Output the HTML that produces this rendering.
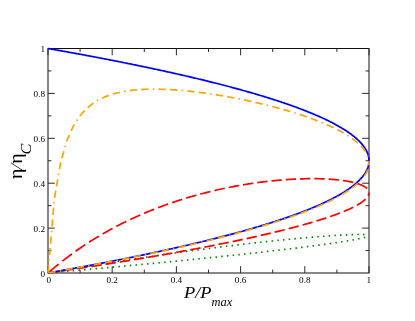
<!DOCTYPE html>
<html><head><meta charset="utf-8"><title>eta vs P</title>
<style>
html,body{margin:0;padding:0;background:#fff;}
body{width:415px;height:321px;overflow:hidden;font-family:"Liberation Serif",serif;}
svg{display:block;}
text{font-family:"Liberation Serif",serif;fill:#000;}
.g{filter:grayscale(1);}
</style></head><body>
<svg width="415" height="321" viewBox="0 0 415 321">
<rect width="415" height="321" fill="#fff"/>
<g stroke="#101010" stroke-width="1.0" fill="none">
<rect x="48.0" y="48.5" width="321.00" height="224.50"/>
</g>
<g stroke="#2a2a2a" stroke-width="1.0" fill="none">
<line x1="48.00" y1="273.0" x2="48.00" y2="266.2"/>
<line x1="48.00" y1="48.5" x2="48.00" y2="55.3"/>
<line x1="80.10" y1="273.0" x2="80.10" y2="269.6"/>
<line x1="80.10" y1="48.5" x2="80.10" y2="51.9"/>
<line x1="48.0" y1="250.55" x2="51.4" y2="250.55"/>
<line x1="369.0" y1="250.55" x2="365.6" y2="250.55"/>
<line x1="112.20" y1="273.0" x2="112.20" y2="266.2"/>
<line x1="112.20" y1="48.5" x2="112.20" y2="55.3"/>
<line x1="48.0" y1="228.10" x2="54.8" y2="228.10"/>
<line x1="369.0" y1="228.10" x2="362.2" y2="228.10"/>
<line x1="144.30" y1="273.0" x2="144.30" y2="269.6"/>
<line x1="144.30" y1="48.5" x2="144.30" y2="51.9"/>
<line x1="48.0" y1="205.65" x2="51.4" y2="205.65"/>
<line x1="369.0" y1="205.65" x2="365.6" y2="205.65"/>
<line x1="176.40" y1="273.0" x2="176.40" y2="266.2"/>
<line x1="176.40" y1="48.5" x2="176.40" y2="55.3"/>
<line x1="48.0" y1="183.20" x2="54.8" y2="183.20"/>
<line x1="369.0" y1="183.20" x2="362.2" y2="183.20"/>
<line x1="208.50" y1="273.0" x2="208.50" y2="269.6"/>
<line x1="208.50" y1="48.5" x2="208.50" y2="51.9"/>
<line x1="48.0" y1="160.75" x2="51.4" y2="160.75"/>
<line x1="369.0" y1="160.75" x2="365.6" y2="160.75"/>
<line x1="240.60" y1="273.0" x2="240.60" y2="266.2"/>
<line x1="240.60" y1="48.5" x2="240.60" y2="55.3"/>
<line x1="48.0" y1="138.30" x2="54.8" y2="138.30"/>
<line x1="369.0" y1="138.30" x2="362.2" y2="138.30"/>
<line x1="272.70" y1="273.0" x2="272.70" y2="269.6"/>
<line x1="272.70" y1="48.5" x2="272.70" y2="51.9"/>
<line x1="48.0" y1="115.85" x2="51.4" y2="115.85"/>
<line x1="369.0" y1="115.85" x2="365.6" y2="115.85"/>
<line x1="304.80" y1="273.0" x2="304.80" y2="266.2"/>
<line x1="304.80" y1="48.5" x2="304.80" y2="55.3"/>
<line x1="48.0" y1="93.40" x2="54.8" y2="93.40"/>
<line x1="369.0" y1="93.40" x2="362.2" y2="93.40"/>
<line x1="336.90" y1="273.0" x2="336.90" y2="269.6"/>
<line x1="336.90" y1="48.5" x2="336.90" y2="51.9"/>
<line x1="48.0" y1="70.95" x2="51.4" y2="70.95"/>
<line x1="369.0" y1="70.95" x2="365.6" y2="70.95"/>
<line x1="369.00" y1="273.0" x2="369.00" y2="266.2"/>
<line x1="369.00" y1="48.5" x2="369.00" y2="55.3"/>
</g>
<g fill="none" stroke-linecap="butt" stroke-linejoin="round" stroke-width="1.7">
<path d="M49.82,272.84 L50.57,272.77 L51.32,272.71 M55.54,272.34 L56.29,272.27 L57.04,272.21 M61.25,271.84 L62.00,271.77 L62.75,271.70 M66.96,271.33 L67.71,271.26 L68.46,271.20 M72.68,270.82 L73.43,270.75 L74.18,270.69 M78.39,270.31 L79.14,270.24 L79.89,270.18 M84.10,269.80 L84.85,269.73 L85.60,269.66 M89.82,269.28 L90.57,269.21 L91.31,269.15 M95.53,268.76 L96.28,268.69 L97.03,268.63 M101.24,268.24 L101.99,268.17 L102.74,268.11 M106.95,267.72 L107.70,267.65 L108.45,267.58 M112.67,267.19 L113.42,267.12 L114.17,267.05 M118.38,266.66 L119.13,266.59 L119.88,266.52 M124.09,266.13 L124.84,266.06 L125.59,265.99 M129.81,265.59 L130.55,265.52 L131.30,265.45 M135.52,265.06 L136.27,264.99 L137.02,264.92 M141.23,264.51 L141.98,264.44 L142.73,264.37 M146.94,263.97 L147.69,263.90 L148.44,263.83 M152.65,263.42 L153.40,263.35 L154.15,263.28 M158.37,262.87 L159.12,262.80 L159.86,262.72 M164.08,262.32 L164.83,262.24 L165.58,262.17 M169.79,261.76 L170.54,261.68 L171.29,261.61 M175.50,261.19 L176.25,261.12 L177.00,261.04 M181.21,260.63 L181.96,260.55 L182.71,260.48 M186.92,260.06 L187.67,259.98 L188.42,259.91 M192.64,259.48 L193.39,259.41 L194.13,259.33 M198.35,258.90 L199.10,258.82 L199.85,258.75 M204.06,258.32 L204.81,258.24 L205.56,258.16 M209.77,257.73 L210.52,257.65 L211.27,257.57 M215.48,257.13 L216.23,257.06 L216.98,256.98 M221.19,256.54 L221.94,256.46 L222.69,256.38 M226.90,255.93 L227.65,255.85 L228.40,255.77 M232.61,255.32 L233.36,255.24 L234.11,255.16 M238.32,254.71 L239.07,254.62 L239.82,254.54 M244.03,254.08 L244.78,254.00 L245.53,253.92 M249.74,253.46 L250.49,253.37 L251.24,253.29 M255.45,252.82 L256.20,252.74 L256.95,252.65 M261.16,252.18 L261.91,252.09 L262.66,252.01 M266.87,251.53 L267.62,251.44 L268.37,251.35 M272.58,250.87 L273.33,250.78 L274.07,250.69 M278.29,250.20 L279.03,250.11 L279.78,250.02 M283.99,249.52 L284.74,249.43 L285.49,249.34 M289.70,248.83 L290.45,248.74 L291.20,248.65 M295.41,248.13 L296.16,248.04 L296.90,247.94 M301.11,247.42 L301.86,247.32 L302.61,247.23 M306.82,246.69 L307.57,246.59 L308.32,246.50 M312.53,245.95 L313.27,245.85 L314.02,245.75 M318.23,245.19 L318.98,245.09 L319.73,244.98 M323.94,244.41 L324.68,244.30 L325.43,244.20 M329.64,243.60 L330.39,243.49 L331.13,243.39 M335.34,242.77 L336.09,242.66 L336.84,242.55 M341.04,241.90 L341.79,241.78 L342.54,241.67 M346.74,240.99 L347.49,240.86 L348.23,240.74 M352.43,240.01 L353.18,239.88 L353.93,239.74 M358.12,238.94 L358.87,238.79 L359.61,238.64 M363.80,237.69 L364.55,237.50 L365.29,237.29" stroke="#008b00"/>
<path d="M364.47,234.59 L363.72,234.56 L362.97,234.53 M358.75,234.48 L358.00,234.49 L357.25,234.50 M353.03,234.59 L352.28,234.61 L351.53,234.64 M347.31,234.80 L346.56,234.84 L345.81,234.87 M341.60,235.09 L340.85,235.13 L340.10,235.17 M335.88,235.42 L335.13,235.47 L334.38,235.52 M330.16,235.80 L329.41,235.85 L328.66,235.90 M324.45,236.21 L323.70,236.26 L322.95,236.32 M318.73,236.65 L317.98,236.71 L317.23,236.77 M313.02,237.11 L312.27,237.18 L311.52,237.24 M307.30,237.60 L306.55,237.67 L305.81,237.73 M301.59,238.11 L300.84,238.18 L300.09,238.25 M295.88,238.64 L295.13,238.71 L294.38,238.78 M290.17,239.19 L289.42,239.26 L288.67,239.33 M284.45,239.75 L283.71,239.83 L282.96,239.90 M278.74,240.33 L277.99,240.41 L277.25,240.48 M273.03,240.92 L272.28,241.00 L271.53,241.08 M267.32,241.53 L266.57,241.61 L265.82,241.69 M261.61,242.15 L260.86,242.24 L260.11,242.32 M255.90,242.79 L255.15,242.87 L254.41,242.96 M250.19,243.44 L249.45,243.52 L248.70,243.61 M244.49,244.10 L243.74,244.18 L242.99,244.27 M238.78,244.77 L238.03,244.86 L237.28,244.95 M233.07,245.45 L232.32,245.54 L231.57,245.63 M227.36,246.15 L226.61,246.24 L225.87,246.33 M221.65,246.85 L220.91,246.95 L220.16,247.04 M215.95,247.57 L215.20,247.67 L214.45,247.76 M210.24,248.30 L209.49,248.39 L208.75,248.49 M204.54,249.04 L203.79,249.13 L203.04,249.23 M198.83,249.78 L198.08,249.88 L197.34,249.98 M193.13,250.54 L192.38,250.64 L191.63,250.74 M187.42,251.31 L186.67,251.41 L185.93,251.52 M181.72,252.09 L180.97,252.19 L180.22,252.30 M176.01,252.88 L175.27,252.98 L174.52,253.09 M170.31,253.68 L169.56,253.78 L168.81,253.89 M164.61,254.48 L163.86,254.59 L163.11,254.70 M158.90,255.30 L158.16,255.41 L157.41,255.52 M153.20,256.13 L152.46,256.23 L151.71,256.34 M147.50,256.96 L146.75,257.07 L146.01,257.18 M141.80,257.81 L141.05,257.92 L140.30,258.03 M136.10,258.66 L135.35,258.77 L134.60,258.89 M130.40,259.52 L129.65,259.64 L128.90,259.75 M124.70,260.39 L123.95,260.51 L123.20,260.63 M119.00,261.28 L118.25,261.39 L117.50,261.51 M113.30,262.17 L112.55,262.28 L111.80,262.40 M107.60,263.06 L106.85,263.18 L106.11,263.30 M101.90,263.97 L101.15,264.09 L100.41,264.21 M96.20,264.89 L95.46,265.01 L94.71,265.13 M90.51,265.81 L89.76,265.94 L89.01,266.06 M84.81,266.75 L84.06,266.87 L83.32,267.00 M79.11,267.69 L78.37,267.82 L77.62,267.94 M73.42,268.64 L72.67,268.77 L71.92,268.90 M67.72,269.61 L66.97,269.73 L66.23,269.86 M62.02,270.58 L61.28,270.70 L60.53,270.83 M56.33,271.55 L55.58,271.68 L54.84,271.81 M50.64,272.54 L49.89,272.67 L49.14,272.80" stroke="#008b00"/>
<path d="M48.83,272.88 L49.97,272.71 L51.10,272.55 L52.24,272.38 L53.37,272.21 L54.50,272.05 L55.64,271.88 L56.77,271.71 L57.91,271.55 L59.04,271.38 M63.01,270.79 L64.14,270.62 L65.28,270.45 L66.41,270.28 L67.55,270.11 L68.68,269.94 L69.81,269.77 L70.95,269.60 L72.08,269.43 L73.22,269.26 M77.18,268.66 L78.32,268.49 L79.45,268.32 L80.58,268.15 L81.72,267.97 L82.85,267.80 L83.99,267.63 L85.12,267.45 L86.25,267.28 L87.39,267.10 M91.35,266.49 L92.48,266.32 L93.62,266.14 L94.75,265.97 L95.88,265.79 L97.02,265.61 L98.15,265.44 L99.28,265.26 L100.42,265.08 L101.55,264.90 M105.51,264.28 L106.64,264.10 L107.78,263.92 L108.91,263.74 L110.04,263.56 L111.18,263.38 L112.31,263.20 L113.44,263.02 L114.58,262.83 L115.71,262.65 M119.67,262.01 L120.80,261.83 L121.93,261.65 L123.07,261.46 L124.20,261.28 L125.33,261.09 L126.46,260.91 L127.60,260.72 L128.73,260.54 L129.86,260.35 M133.82,259.70 L134.95,259.51 L136.08,259.32 L137.21,259.13 L138.34,258.94 L139.48,258.75 L140.61,258.56 L141.74,258.37 L142.87,258.18 L144.00,257.99 M147.96,257.32 L149.09,257.13 L150.22,256.94 L151.35,256.74 L152.48,256.55 L153.62,256.36 L154.75,256.16 L155.88,255.97 L157.01,255.77 L158.14,255.58 M162.09,254.89 L163.22,254.69 L164.35,254.49 L165.48,254.29 L166.61,254.09 L167.74,253.89 L168.88,253.70 L170.01,253.49 L171.14,253.29 L172.27,253.09 M176.22,252.38 L177.35,252.18 L178.48,251.98 L179.61,251.77 L180.73,251.57 L181.86,251.36 L182.99,251.16 L184.12,250.95 L185.25,250.74 L186.38,250.54 M190.33,249.81 L191.46,249.60 L192.59,249.39 L193.72,249.18 L194.84,248.97 L195.97,248.75 L197.10,248.54 L198.23,248.33 L199.36,248.11 L200.49,247.90 M204.43,247.15 L205.56,246.93 L206.69,246.71 L207.81,246.50 L208.94,246.28 L210.07,246.06 L211.20,245.84 L212.32,245.62 L213.45,245.40 L214.58,245.18 M218.52,244.40 L219.64,244.17 L220.77,243.95 L221.90,243.72 L223.02,243.49 L224.15,243.27 L225.28,243.04 L226.40,242.81 L227.53,242.58 L228.65,242.35 M232.59,241.54 L233.71,241.31 L234.84,241.07 L235.96,240.84 L237.09,240.60 L238.21,240.37 L239.34,240.13 L240.46,239.89 L241.59,239.65 L242.71,239.41 M246.64,238.57 L247.76,238.32 L248.89,238.08 L250.01,237.83 L251.13,237.59 L252.25,237.34 L253.38,237.09 L254.50,236.84 L255.62,236.59 L256.75,236.34 M260.67,235.46 L261.79,235.20 L262.91,234.95 L264.03,234.69 L265.15,234.43 L266.27,234.17 L267.39,233.91 L268.51,233.65 L269.63,233.38 L270.75,233.12 M274.66,232.19 L275.78,231.92 L276.90,231.65 L278.02,231.37 L279.14,231.10 L280.26,230.83 L281.37,230.55 L282.49,230.27 L283.61,229.99 L284.72,229.71 M288.63,228.72 L289.74,228.43 L290.86,228.15 L291.97,227.86 L293.08,227.56 L294.20,227.27 L295.31,226.98 L296.43,226.68 L297.54,226.38 L298.65,226.08 M302.54,225.02 L303.65,224.71 L304.76,224.40 L305.87,224.08 L306.98,223.77 L308.09,223.45 L309.19,223.13 L310.30,222.81 L311.41,222.49 L312.52,222.16 M316.38,221.00 L317.48,220.66 L318.59,220.32 L319.69,219.98 L320.79,219.63 L321.89,219.28 L322.99,218.93 L324.09,218.58 L325.19,218.22 L326.29,217.85 M330.12,216.56 L331.21,216.18 L332.31,215.80 L333.40,215.41 L334.49,215.02 L335.58,214.62 L336.66,214.22 L337.75,213.82 L338.83,213.40 L339.91,212.99 M343.68,211.48 L344.76,211.04 L345.83,210.59 L346.90,210.13 L347.96,209.66 L349.03,209.18 L350.08,208.69 L351.14,208.20 L352.19,207.69 L353.24,207.17 M356.86,205.26 L357.88,204.68 L358.89,204.08 L359.90,203.46 L360.89,202.81 L361.87,202.14 L362.83,201.45 L363.77,200.71 L364.69,199.94 L365.58,199.12 M368.16,195.85 L368.60,194.88 L368.89,193.86 L369.00,192.82" stroke="#ff0000"/>
<path d="M369.00,192.82 L368.98,192.39 M367.00,188.56 L365.96,187.65 L364.89,186.89 L363.80,186.24 L362.70,185.65 L361.59,185.14 L360.47,184.67 L359.35,184.24 L358.23,183.85 L357.10,183.49 M353.14,182.40 L352.01,182.13 L350.87,181.89 L349.73,181.65 L348.60,181.43 L347.46,181.22 L346.32,181.03 L345.18,180.84 L344.04,180.67 L342.90,180.50 M338.91,180.00 L337.76,179.88 L336.62,179.76 L335.48,179.65 L334.34,179.54 L333.19,179.45 L332.05,179.36 L330.90,179.28 L329.76,179.20 L328.62,179.13 M324.62,178.92 L323.47,178.88 L322.33,178.83 L321.19,178.80 L320.04,178.76 L318.90,178.74 L317.75,178.71 L316.61,178.70 L315.46,178.68 L314.32,178.67 M310.32,178.67 L309.18,178.68 L308.03,178.70 L306.89,178.71 L305.74,178.73 L304.60,178.76 L303.45,178.78 L302.31,178.82 L301.17,178.85 L300.02,178.89 M296.02,179.06 L294.88,179.11 L293.73,179.17 L292.59,179.23 L291.45,179.29 L290.30,179.36 L289.16,179.43 L288.01,179.51 L286.87,179.59 L285.73,179.67 M281.73,179.97 L280.59,180.07 L279.44,180.17 L278.30,180.27 L277.16,180.37 L276.02,180.48 L274.87,180.59 L273.73,180.70 L272.59,180.82 L271.44,180.94 M267.45,181.38 L266.31,181.51 L265.17,181.65 L264.03,181.78 L262.88,181.93 L261.74,182.07 L260.60,182.21 L259.46,182.37 L258.32,182.52 L257.18,182.67 M253.19,183.24 L252.05,183.41 L250.91,183.58 L249.77,183.75 L248.63,183.93 L247.49,184.11 L246.35,184.29 L245.21,184.48 L244.07,184.67 L242.93,184.86 M238.94,185.55 L237.81,185.75 L236.67,185.96 L235.53,186.17 L234.39,186.38 L233.25,186.59 L232.11,186.81 L230.97,187.04 L229.84,187.26 L228.70,187.48 M224.72,188.30 L223.59,188.54 L222.45,188.78 L221.31,189.03 L220.18,189.27 L219.04,189.53 L217.90,189.78 L216.77,190.04 L215.63,190.30 L214.50,190.56 M210.53,191.51 L209.40,191.78 L208.26,192.06 L207.13,192.34 L205.99,192.63 L204.86,192.92 L203.73,193.21 L202.59,193.50 L201.46,193.80 L200.33,194.11 M196.37,195.18 L195.24,195.50 L194.11,195.81 L192.98,196.13 L191.85,196.46 L190.72,196.78 L189.59,197.11 L188.46,197.44 L187.33,197.78 L186.20,198.13 M182.25,199.34 L181.12,199.69 L180.00,200.05 L178.87,200.41 L177.74,200.77 L176.61,201.14 L175.49,201.51 L174.36,201.89 L173.24,202.26 L172.11,202.65 M168.18,204.00 L167.05,204.40 L165.93,204.80 L164.81,205.20 L163.68,205.61 L162.56,206.02 L161.44,206.44 L160.32,206.86 L159.20,207.27 L158.07,207.69 M154.16,209.21 L153.04,209.65 L151.92,210.10 L150.80,210.55 L149.68,211.00 L148.57,211.45 L147.45,211.91 L146.33,212.38 L145.22,212.85 L144.10,213.32 M140.21,214.99 L139.09,215.48 L137.98,215.97 L136.86,216.46 L135.75,216.97 L134.64,217.48 L133.53,217.98 L132.42,218.49 L131.31,219.00 L130.20,219.53 M126.32,221.38 L125.22,221.92 L124.11,222.47 L123.01,223.02 L121.90,223.57 L120.79,224.11 L119.69,224.68 L118.59,225.25 L117.49,225.82 L116.38,226.39 M112.53,228.43 L111.44,229.02 L110.34,229.62 L109.24,230.21 L108.14,230.82 L107.04,231.44 L105.95,232.06 L104.85,232.68 L103.76,233.30 L102.66,233.93 M98.85,236.17 L97.75,236.82 L96.67,237.47 L95.58,238.14 L94.49,238.81 L93.40,239.48 L92.31,240.15 L91.23,240.82 L90.14,241.52 L89.06,242.22 M85.28,244.65 L84.20,245.38 L83.12,246.11 L82.04,246.83 L80.96,247.56 L79.89,248.28 L78.81,249.02 L77.74,249.78 L76.67,250.53 L75.59,251.29 M71.85,253.97 L70.79,254.76 L69.72,255.54 L68.65,256.33 L67.58,257.12 L66.52,257.92 L65.46,258.74 L64.40,259.56 L63.34,260.38 L62.28,261.20 M58.59,264.14 L57.53,265.00 L56.48,265.85 L55.43,266.71 L54.37,267.56 L53.33,268.46 L52.28,269.35 L51.24,270.24 L50.19,271.13 L49.15,272.02" stroke="#ff0000"/>
<path d="M48.00,273.00 L48.98,272.83 L49.97,272.65 L50.95,272.48 L51.94,272.31 L52.92,272.13 L53.91,271.96 L54.89,271.79 L55.88,271.61 L56.86,271.44 L57.85,271.26 L58.83,271.09 L59.82,270.91 L60.80,270.74 L61.79,270.56 L62.77,270.39 L63.75,270.21 L64.74,270.03 L65.72,269.86 L66.71,269.68 L67.69,269.50 L68.68,269.32 L69.66,269.15 L70.64,268.97 L71.63,268.79 L72.61,268.61 L73.60,268.43 L74.58,268.25 L75.56,268.07 L76.55,267.89 L77.53,267.71 L78.51,267.53 L79.50,267.35 L80.48,267.17 L81.46,266.99 L82.45,266.80 L83.43,266.62 L84.41,266.44 L85.40,266.26 L86.38,266.08 L87.36,265.89 L88.35,265.71 L89.33,265.52 L90.31,265.34 L91.29,265.16 L92.28,264.97 L93.26,264.78 L94.24,264.60 L95.23,264.41 L96.21,264.23 L97.19,264.04 L98.17,263.85 L99.16,263.67 L100.14,263.48 L101.12,263.29 L102.10,263.10 L103.08,262.92 L104.07,262.73 L105.05,262.54 L106.03,262.35 L107.01,262.16 L107.99,261.97 L108.98,261.78 L109.96,261.59 L110.94,261.39 L111.92,261.20 L112.90,261.01 L113.88,260.82 L114.86,260.63 L115.84,260.43 L116.83,260.24 L117.81,260.05 L118.79,259.85 L119.77,259.66 L120.75,259.46 L121.73,259.27 L122.71,259.07 L123.69,258.88 L124.67,258.68 L125.65,258.48 L126.63,258.29 L127.61,258.09 L128.59,257.89 L129.57,257.69 L130.55,257.49 L131.53,257.30 L132.51,257.10 L133.49,256.90 L134.47,256.70 L135.45,256.49 L136.43,256.29 L137.41,256.09 L138.39,255.89 L139.37,255.69 L140.35,255.49 L141.33,255.28 L142.31,255.08 L143.29,254.88 L144.27,254.67 L145.24,254.47 L146.22,254.26 L147.20,254.06 L148.18,253.85 L149.16,253.64 L150.14,253.44 L151.12,253.23 L152.09,253.02 L153.07,252.81 L154.05,252.60 L155.03,252.39 L156.01,252.18 L156.98,251.97 L157.96,251.76 L158.94,251.55 L159.92,251.34 L160.89,251.13 L161.87,250.92 L162.85,250.70 L163.82,250.49 L164.80,250.28 L165.78,250.06 L166.75,249.85 L167.73,249.63 L168.71,249.42 L169.68,249.20 L170.66,248.98 L171.64,248.77 L172.61,248.55 L173.59,248.33 L174.56,248.11 L175.54,247.89 L176.51,247.67 L177.49,247.45 L178.47,247.23 L179.44,247.01 L180.42,246.79 L181.39,246.56 L182.37,246.34 L183.34,246.12 L184.31,245.89 L185.29,245.67 L186.26,245.44 L187.24,245.22 L188.21,244.99 L189.19,244.76 L190.16,244.53 L191.13,244.31 L192.11,244.08 L193.08,243.85 L194.05,243.62 L195.03,243.39 L196.00,243.15 L196.97,242.92 L197.94,242.69 L198.92,242.46 L199.89,242.22 L200.86,241.99 L201.83,241.75 L202.80,241.52 L203.78,241.28 L204.75,241.04 L205.72,240.81 L206.69,240.57 L207.66,240.33 L208.63,240.09 L209.60,239.85 L210.57,239.61 L211.54,239.37 L212.51,239.12 L213.48,238.88 L214.45,238.64 L215.42,238.39 L216.39,238.15 L217.36,237.90 L218.33,237.65 L219.30,237.40 L220.27,237.16 L221.24,236.91 L222.20,236.66 L223.17,236.41 L224.14,236.16 L225.11,235.90 L226.08,235.65 L227.04,235.40 L228.01,235.14 L228.98,234.89 L229.94,234.63 L230.91,234.37 L231.88,234.11 L232.84,233.86 L233.81,233.60 L234.77,233.33 L235.74,233.07 L236.70,232.81 L237.67,232.55 L238.63,232.28 L239.60,232.02 L240.56,231.75 L241.52,231.49 L242.49,231.22 L243.45,230.95 L244.41,230.68 L245.38,230.41 L246.34,230.14 L247.30,229.86 L248.26,229.59 L249.22,229.32 L250.19,229.04 L251.15,228.76 L252.11,228.49 L253.07,228.21 L254.03,227.93 L254.99,227.65 L255.95,227.36 L256.91,227.08 L257.86,226.80 L258.82,226.51 L259.78,226.22 L260.74,225.94 L261.70,225.65 L262.65,225.36 L263.61,225.07 L264.57,224.78 L265.52,224.48 L266.48,224.18 L267.43,223.89 L268.39,223.59 L269.34,223.29 L270.29,222.99 L271.25,222.69 L272.20,222.39 L273.15,222.08 L274.11,221.78 L275.06,221.47 L276.01,221.16 L276.96,220.85 L277.91,220.54 L278.86,220.23 L279.81,219.92 L280.76,219.60 L281.71,219.28 L282.66,218.97 L283.60,218.64 L284.55,218.32 L285.50,218.00 L286.44,217.67 L287.39,217.35 L288.33,217.02 L289.27,216.69 L290.22,216.36 L291.16,216.02 L292.10,215.69 L293.04,215.35 L293.98,215.01 L294.93,214.67 L295.86,214.33 L296.80,213.98 L297.74,213.64 L298.68,213.29 L299.61,212.93 L300.55,212.58 L301.48,212.23 L302.42,211.87 L303.35,211.51 L304.28,211.15 L305.22,210.78 L306.15,210.42 L307.08,210.05 L308.00,209.68 L308.93,209.31 L309.86,208.93 L310.78,208.55 L311.71,208.17 L312.63,207.79 L313.55,207.40 L314.48,207.01 L315.40,206.62 L316.31,206.22 L317.23,205.83 L318.15,205.43 L319.06,205.02 L319.98,204.62 L320.89,204.20 L321.80,203.79 L322.71,203.38 L323.62,202.95 L324.52,202.53 L325.43,202.10 L326.33,201.67 L327.23,201.24 L328.13,200.80 L329.02,200.36 L329.92,199.91 L330.81,199.46 L331.70,199.01 L332.59,198.55 L333.48,198.09 L334.36,197.62 L335.24,197.15 L336.12,196.67 L337.00,196.19 L337.87,195.70 L338.74,195.21 L339.61,194.71 L340.47,194.21 L341.33,193.70 L342.19,193.19 L343.05,192.66 L343.90,192.14 L344.74,191.60 L345.59,191.07 L346.42,190.52 L347.25,189.97 L348.08,189.40 L348.90,188.83 L349.72,188.25 L350.53,187.67 L351.34,187.08 L352.14,186.48 L352.93,185.86 L353.71,185.24 L354.49,184.61 L355.25,183.97 L356.01,183.32 L356.76,182.66 L357.50,181.99 L358.23,181.30 L358.95,180.61 L359.66,179.90 L360.34,179.17 L361.02,178.44 L361.69,177.69 L362.33,176.92 L362.96,176.15 L363.57,175.35 L364.15,174.54 L364.71,173.71 L365.25,172.87 L365.77,172.02 L366.24,171.14 L366.70,170.25 L367.11,169.34 L367.50,168.41 L367.85,167.48 L368.15,166.52 L368.40,165.56 L368.62,164.58 L368.79,163.60 L368.91,162.60 L368.98,161.61 L369.00,160.61 L368.97,159.61 L368.88,158.61 L368.74,157.62 L368.56,156.64 L368.33,155.66 L368.06,154.70 L367.75,153.75 L367.39,152.82 L367.00,151.90 L366.57,151.00 L366.11,150.11 L365.62,149.24 L365.10,148.38 L364.55,147.55 L363.98,146.72 L363.39,145.92 L362.78,145.13 L362.14,144.35 L361.49,143.59 L360.83,142.85 L360.15,142.12 L359.45,141.40 L358.74,140.69 L358.02,140.00 L357.29,139.32 L356.55,138.65 L355.80,137.99 L355.03,137.34 L354.26,136.70 L353.49,136.07 L352.70,135.46 L351.91,134.85 L351.10,134.25 L350.30,133.66 L349.48,133.08 L348.67,132.50 L347.84,131.94 L347.01,131.38 L346.18,130.83 L345.34,130.28 L344.50,129.74 L343.65,129.21 L342.80,128.69 L341.95,128.16 L341.09,127.65 L340.23,127.14 L339.36,126.65 L338.49,126.15 L337.62,125.66 L336.75,125.17 L335.87,124.69 L334.99,124.22 L334.11,123.74 L333.22,123.28 L332.34,122.82 L331.45,122.36 L330.56,121.91 L329.66,121.46 L328.77,121.01 L327.87,120.57 L326.97,120.13 L326.07,119.70 L325.17,119.27 L324.26,118.85 L323.35,118.42 L322.45,118.00 L321.54,117.59 L320.63,117.18 L319.71,116.77 L318.80,116.36 L317.88,115.96 L316.97,115.56 L316.05,115.16 L315.13,114.77 L314.21,114.38 L313.29,113.99 L312.37,113.60 L311.44,113.22 L310.52,112.84 L309.59,112.46 L308.66,112.09 L307.74,111.71 L306.81,111.34 L305.88,110.98 L304.95,110.61 L304.02,110.24 L303.08,109.89 L302.15,109.53 L301.22,109.17 L300.28,108.82 L299.34,108.46 L298.41,108.11 L297.47,107.76 L296.53,107.42 L295.59,107.07 L294.65,106.73 L293.71,106.39 L292.77,106.05 L291.83,105.71 L290.89,105.38 L289.95,105.05 L289.00,104.71 L288.06,104.39 L287.11,104.06 L286.17,103.73 L285.22,103.41 L284.28,103.08 L283.33,102.76 L282.38,102.44 L281.43,102.12 L280.49,101.81 L279.54,101.49 L278.59,101.18 L277.64,100.87 L276.69,100.56 L275.74,100.25 L274.78,99.94 L273.83,99.63 L272.88,99.33 L271.93,99.02 L270.97,98.72 L270.02,98.42 L269.07,98.12 L268.11,97.82 L267.16,97.53 L266.20,97.23 L265.25,96.93 L264.29,96.64 L263.33,96.35 L262.38,96.06 L261.42,95.77 L260.46,95.48 L259.50,95.19 L258.55,94.91 L257.59,94.62 L256.63,94.34 L255.67,94.06 L254.71,93.77 L253.75,93.49 L252.79,93.21 L251.83,92.93 L250.87,92.66 L249.91,92.38 L248.95,92.10 L247.98,91.83 L247.02,91.56 L246.06,91.28 L245.10,91.01 L244.14,90.74 L243.17,90.47 L242.21,90.20 L241.25,89.94 L240.28,89.67 L239.32,89.41 L238.35,89.14 L237.39,88.88 L236.42,88.61 L235.46,88.35 L234.49,88.09 L233.53,87.83 L232.56,87.57 L231.60,87.31 L230.63,87.05 L229.66,86.80 L228.70,86.54 L227.73,86.29 L226.76,86.03 L225.80,85.78 L224.83,85.52 L223.86,85.27 L222.89,85.02 L221.92,84.77 L220.96,84.52 L219.99,84.27 L219.02,84.02 L218.05,83.78 L217.08,83.53 L216.11,83.28 L215.14,83.04 L214.17,82.79 L213.20,82.55 L212.23,82.31 L211.26,82.06 L210.29,81.82 L209.32,81.58 L208.35,81.34 L207.38,81.10 L206.41,80.86 L205.44,80.63 L204.47,80.39 L203.50,80.15 L202.52,79.91 L201.55,79.68 L200.58,79.44 L199.61,79.21 L198.64,78.98 L197.66,78.74 L196.69,78.51 L195.72,78.28 L194.74,78.05 L193.77,77.82 L192.80,77.59 L191.83,77.36 L190.85,77.13 L189.88,76.90 L188.90,76.67 L187.93,76.45 L186.96,76.22 L185.98,75.99 L185.01,75.77 L184.03,75.54 L183.06,75.32 L182.08,75.10 L181.11,74.87 L180.13,74.65 L179.16,74.43 L178.18,74.21 L177.21,73.99 L176.23,73.77 L175.26,73.55 L174.28,73.33 L173.31,73.11 L172.33,72.89 L171.35,72.67 L170.38,72.45 L169.40,72.24 L168.43,72.02 L167.45,71.81 L166.47,71.59 L165.50,71.38 L164.52,71.16 L163.54,70.95 L162.57,70.73 L161.59,70.52 L160.61,70.31 L159.63,70.10 L158.66,69.89 L157.68,69.67 L156.70,69.46 L155.72,69.26 L154.75,69.05 L153.77,68.84 L152.79,68.63 L151.81,68.42 L150.83,68.21 L149.86,68.00 L148.88,67.80 L147.90,67.59 L146.92,67.39 L145.94,67.18 L144.96,66.98 L143.98,66.77 L143.01,66.57 L142.03,66.36 L141.05,66.16 L140.07,65.96 L139.09,65.75 L138.11,65.55 L137.13,65.35 L136.15,65.15 L135.17,64.95 L134.19,64.75 L133.21,64.55 L132.23,64.35 L131.25,64.15 L130.27,63.95 L129.29,63.75 L128.31,63.55 L127.33,63.35 L126.35,63.16 L125.37,62.96 L124.39,62.76 L123.41,62.57 L122.43,62.37 L121.45,62.18 L120.47,61.98 L119.49,61.79 L118.50,61.59 L117.52,61.40 L116.54,61.20 L115.56,61.01 L114.58,60.82 L113.60,60.63 L112.62,60.43 L111.64,60.24 L110.65,60.05 L109.67,59.86 L108.69,59.67 L107.71,59.48 L106.73,59.29 L105.75,59.10 L104.76,58.91 L103.78,58.72 L102.80,58.53 L101.82,58.34 L100.84,58.15 L99.85,57.97 L98.87,57.78 L97.89,57.59 L96.91,57.40 L95.92,57.22 L94.94,57.03 L93.96,56.85 L92.98,56.66 L91.99,56.48 L91.01,56.29 L90.03,56.11 L89.05,55.92 L88.06,55.74 L87.08,55.56 L86.10,55.37 L85.11,55.19 L84.13,55.01 L83.15,54.82 L82.16,54.64 L81.18,54.46 L80.20,54.28 L79.21,54.10 L78.23,53.92 L77.25,53.74 L76.26,53.56 L75.28,53.38 L74.30,53.20 L73.31,53.02 L72.33,52.84 L71.34,52.66 L70.36,52.48 L69.38,52.30 L68.39,52.12 L67.41,51.95 L66.42,51.77 L65.44,51.59 L64.46,51.42 L63.47,51.24 L62.49,51.06 L61.50,50.89 L60.52,50.71 L59.53,50.54 L58.55,50.36 L57.56,50.19 L56.58,50.01 L55.59,49.84 L54.61,49.66 L53.63,49.49 L52.64,49.32 L51.66,49.14 L50.67,48.97 L49.69,48.80 L48.70,48.62 L48.00,48.50" stroke="#0000ff"/>
<path d="M48.45,272.92 L49.47,272.74 L50.50,272.56 L51.53,272.39 L52.56,272.21 L53.58,272.03 L54.61,271.85 L55.64,271.67 M59.82,270.93 L60.56,270.80 L61.30,270.67 M65.48,269.93 L66.50,269.75 L67.53,269.57 L68.56,269.38 L69.58,269.20 L70.61,269.01 L71.64,268.83 L72.66,268.65 M76.82,267.89 L77.85,267.71 L78.88,267.52 L79.90,267.33 L80.93,267.15 L81.95,266.96 L82.98,266.77 L84.01,266.58 M88.18,265.81 L88.92,265.68 L89.66,265.54 M93.83,264.76 L94.86,264.57 L95.88,264.38 L96.91,264.19 L97.93,263.99 L98.96,263.80 L99.98,263.61 L101.00,263.41 M105.16,262.62 L106.18,262.43 L107.21,262.23 L108.23,262.04 L109.26,261.84 L110.28,261.64 L111.30,261.44 L112.33,261.25 M116.50,260.44 L117.23,260.29 L117.97,260.15 M122.13,259.33 L123.16,259.13 L124.18,258.93 L125.20,258.73 L126.23,258.52 L127.25,258.32 L128.27,258.11 L129.29,257.91 M133.44,257.08 L134.46,256.87 L135.48,256.66 L136.51,256.46 L137.53,256.25 L138.55,256.04 L139.57,255.83 L140.59,255.62 M144.75,254.77 L145.49,254.62 L146.22,254.46 M150.38,253.60 L151.40,253.38 L152.42,253.17 L153.44,252.96 L154.46,252.74 L155.48,252.52 L156.50,252.31 L157.52,252.09 M161.65,251.21 L162.67,250.99 L163.69,250.77 L164.71,250.55 L165.73,250.32 L166.75,250.10 L167.77,249.88 L168.79,249.66 M172.94,248.75 L173.67,248.59 L174.40,248.42 M178.55,247.50 L179.56,247.27 L180.58,247.04 L181.60,246.81 L182.61,246.58 L183.63,246.35 L184.65,246.12 L185.67,245.89 M189.79,244.94 L190.80,244.71 L191.82,244.47 L192.83,244.24 L193.85,244.00 L194.86,243.76 L195.88,243.52 L196.90,243.28 M201.03,242.30 L201.76,242.13 L202.49,241.96 M206.61,240.96 L207.63,240.72 L208.64,240.47 L209.65,240.22 L210.67,239.97 L211.68,239.72 L212.69,239.47 L213.70,239.22 M217.81,238.20 L218.82,237.94 L219.83,237.69 L220.84,237.43 L221.85,237.18 L222.86,236.92 L223.87,236.66 L224.88,236.40 M228.99,235.34 L229.72,235.15 L230.44,234.96 M234.55,233.87 L235.55,233.60 L236.56,233.33 L237.57,233.06 L238.58,232.79 L239.58,232.52 L240.59,232.24 L241.60,231.97 M245.67,230.85 L246.68,230.57 L247.68,230.28 L248.68,230.00 L249.69,229.72 L250.69,229.44 L251.69,229.15 L252.70,228.87 M256.78,227.69 L257.50,227.48 L258.22,227.27 M262.29,226.06 L263.29,225.76 L264.29,225.47 L265.28,225.16 L266.28,224.86 L267.28,224.56 L268.28,224.25 L269.27,223.94 M273.31,222.69 L274.30,222.37 L275.30,222.06 L276.29,221.74 L277.28,221.42 L278.28,221.10 L279.27,220.78 L280.26,220.46 M284.29,219.12 L285.00,218.88 L285.71,218.65 M289.73,217.27 L290.72,216.93 L291.70,216.59 L292.69,216.24 L293.67,215.89 L294.65,215.55 L295.63,215.19 L296.61,214.84 M300.58,213.39 L301.56,213.02 L302.54,212.65 L303.51,212.29 L304.49,211.91 L305.46,211.54 L306.43,211.16 L307.41,210.78 M311.35,209.21 L312.05,208.93 L312.74,208.65 M316.66,207.01 L317.62,206.61 L318.58,206.19 L319.53,205.78 L320.49,205.36 L321.44,204.94 L322.39,204.51 L323.34,204.08 M327.18,202.30 L328.12,201.85 L329.06,201.40 L330.00,200.94 L330.93,200.48 L331.87,200.02 L332.79,199.54 L333.72,199.07 M337.47,197.08 L338.13,196.72 L338.79,196.36 M342.47,194.24 L343.36,193.70 L344.25,193.16 L345.14,192.61 L346.02,192.06 L346.90,191.49 L347.77,190.92 L348.64,190.34 M352.09,187.90 L352.92,187.27 L353.75,186.63 L354.57,185.99 L355.37,185.33 L356.17,184.66 L356.96,183.97 L357.74,183.28 M360.78,180.31 L361.28,179.76 L361.79,179.21 M364.43,175.88 L365.01,175.02 L365.57,174.14 L366.09,173.24 L366.59,172.32 L367.05,171.38 L367.46,170.43 L367.84,169.45 M368.84,165.35 L368.92,164.55 L368.98,163.75 L369.00,162.95" stroke="#ffa500"/>
<path d="M369.00,162.95 L368.97,161.92 L368.88,160.90 M367.93,156.77 L367.68,156.06 L367.40,155.37 M365.42,151.62 L364.84,150.75 L364.24,149.89 L363.62,149.06 L362.96,148.25 L362.28,147.46 L361.59,146.68 L360.88,145.92 M357.82,143.00 L357.03,142.32 L356.23,141.65 L355.42,140.99 L354.60,140.35 L353.77,139.71 L352.93,139.09 L352.09,138.48 M348.57,136.10 L347.94,135.70 L347.31,135.29 M343.67,133.11 L342.76,132.59 L341.85,132.08 L340.94,131.58 L340.02,131.08 L339.10,130.60 L338.18,130.11 L337.25,129.63 M333.46,127.76 L332.52,127.31 L331.58,126.86 L330.63,126.43 L329.68,125.99 L328.73,125.56 L327.78,125.14 L326.82,124.72 M322.92,123.05 L322.23,122.76 L321.53,122.48 M317.59,120.90 L316.62,120.53 L315.65,120.15 L314.67,119.78 L313.69,119.41 L312.72,119.05 L311.74,118.69 L310.76,118.33 M306.78,116.91 L305.79,116.57 L304.81,116.23 L303.82,115.89 L302.83,115.56 L301.84,115.23 L300.85,114.90 L299.86,114.57 M295.82,113.27 L295.11,113.04 L294.39,112.82 M290.33,111.58 L289.33,111.28 L288.33,110.98 L287.33,110.68 L286.33,110.39 L285.33,110.10 L284.33,109.81 L283.32,109.53 M279.25,108.38 L278.25,108.11 L277.24,107.84 L276.23,107.56 L275.23,107.29 L274.22,107.03 L273.21,106.76 L272.20,106.50 M268.09,105.44 L267.36,105.26 L266.63,105.08 M262.51,104.07 L261.49,103.82 L260.48,103.58 L259.47,103.34 L258.45,103.10 L257.43,102.86 L256.42,102.63 L255.40,102.40 M251.28,101.47 L250.26,101.25 L249.24,101.03 L248.22,100.81 L247.20,100.59 L246.18,100.37 L245.16,100.15 L244.14,99.94 M239.98,99.09 L239.24,98.94 L238.51,98.80 M234.34,97.99 L233.32,97.79 L232.29,97.60 L231.27,97.41 L230.24,97.22 L229.22,97.02 L228.19,96.84 L227.16,96.66 M223.00,95.93 L221.97,95.75 L220.94,95.58 L219.91,95.41 L218.88,95.24 L217.85,95.07 L216.83,94.90 L215.80,94.74 M211.60,94.09 L210.86,93.98 L210.12,93.87 M205.91,93.26 L204.88,93.12 L203.85,92.97 L202.81,92.83 L201.78,92.70 L200.75,92.56 L199.71,92.43 L198.68,92.30 M194.48,91.79 L193.45,91.66 L192.41,91.55 L191.37,91.43 L190.34,91.32 L189.30,91.21 L188.26,91.10 L187.22,90.99 M183.00,90.59 L182.25,90.52 L181.50,90.46 M177.27,90.11 L176.23,90.03 L175.19,89.96 L174.15,89.88 L173.11,89.81 L172.07,89.75 L171.03,89.69 L169.99,89.62 M165.77,89.42 L164.72,89.37 L163.68,89.32 L162.64,89.29 L161.60,89.26 L160.55,89.24 L159.51,89.21 L158.47,89.18 M154.22,89.14 L153.47,89.14 L152.72,89.14 M148.48,89.20 L147.44,89.22 L146.39,89.26 L145.35,89.30 L144.31,89.34 L143.27,89.38 L142.23,89.43 L141.18,89.50 M136.97,89.78 L135.93,89.88 L134.89,89.99 L133.85,90.09 L132.82,90.19 L131.78,90.29 L130.74,90.43 L129.71,90.57 M125.51,91.18 L124.77,91.31 L124.03,91.45 M119.86,92.25 L118.85,92.49 L117.84,92.74 L116.82,92.98 L115.81,93.23 L114.79,93.47 L113.80,93.78 L112.80,94.09 M108.77,95.36 L107.80,95.74 L106.83,96.13 L105.86,96.52 L104.89,96.90 L103.93,97.29 L102.97,97.69 L102.04,98.17 M98.26,100.10 L97.59,100.44 L96.94,100.82 M93.40,103.16 L92.53,103.73 L91.66,104.31 L90.84,104.95 L90.05,105.63 L89.26,106.32 L88.47,107.00 L87.68,107.68 M84.60,110.56 L83.91,111.34 L83.23,112.13 L82.55,112.92 L81.86,113.70 L81.18,114.49 L80.49,115.28 L79.81,116.07 M77.44,119.58 L77.04,120.21 L76.64,120.85 M74.37,124.43 L73.81,125.32 L73.25,126.20 L72.81,127.14 L72.38,128.09 L71.96,129.05 L71.54,130.00 L71.12,130.95 M69.41,134.82 L68.98,135.77 L68.56,136.73 L68.14,137.68 L67.72,138.63 L67.30,139.59 L66.90,140.55 L66.61,141.55 M65.43,145.63 L65.22,146.35 L65.01,147.07 M63.83,151.15 L63.54,152.15 L63.24,153.15 L62.95,154.15 L62.66,155.16 L62.37,156.16 L62.08,157.16 L61.79,158.16 M60.65,162.23 L60.47,163.26 L60.30,164.28 L60.12,165.31 L59.94,166.34 L59.76,167.37 L59.59,168.40 L59.41,169.42 M58.69,173.61 L58.56,174.35 L58.43,175.09 M57.71,179.27 L57.53,180.30 L57.36,181.32 L57.18,182.35 L57.00,183.38 L56.83,184.41 L56.65,185.44 L56.47,186.46 M55.75,190.63 L55.57,191.66 L55.40,192.69 L55.22,193.71 L55.04,194.74 L54.87,195.77 L54.69,196.80 L54.51,197.82 M54.09,202.05 L54.02,202.79 L53.96,203.54 M53.60,207.77 L53.51,208.81 L53.42,209.85 L53.33,210.89 L53.24,211.93 L53.15,212.97 L53.06,214.01 L52.97,215.04 M52.61,219.26 L52.52,220.30 L52.43,221.34 L52.34,222.37 L52.25,223.41 L52.16,224.45 L52.08,225.49 L51.99,226.53 M51.62,230.76 L51.56,231.51 L51.50,232.26 M51.13,236.49 L51.04,237.52 L50.95,238.56 L50.87,239.60 L50.78,240.64 L50.69,241.68 L50.60,242.72 L50.51,243.76 M50.15,247.97 L50.06,249.01 L49.97,250.05 L49.88,251.09 L49.79,252.13 L49.70,253.17 L49.61,254.21 L49.52,255.24 M49.16,259.48 L49.10,260.22 L49.03,260.97 M48.67,265.20 L48.58,266.24 L48.49,267.28 L48.40,268.32 L48.31,269.36 L48.22,270.40 L48.13,271.43 L48.05,272.47" stroke="#ffa500"/>
</g>
<g class="g" font-size="9.2">
<text x="48.90" y="282.9" text-anchor="middle">0</text>
<text x="45.1" y="276.60" text-anchor="end">0</text>
<text x="112.20" y="282.9" text-anchor="middle">0.2</text>
<text x="45.1" y="231.70" text-anchor="end">0.2</text>
<text x="176.40" y="282.9" text-anchor="middle">0.4</text>
<text x="45.1" y="186.80" text-anchor="end">0.4</text>
<text x="240.60" y="282.9" text-anchor="middle">0.6</text>
<text x="45.1" y="141.90" text-anchor="end">0.6</text>
<text x="304.80" y="282.9" text-anchor="middle">0.8</text>
<text x="45.1" y="97.00" text-anchor="end">0.8</text>
<text x="368.70" y="282.9" text-anchor="middle">1</text>
<text x="45.1" y="52.10" text-anchor="end">1</text>
</g>
<g class="g">
<text transform="translate(184,298.4) scale(1.08,1)" font-size="17" font-style="italic">P/P<tspan font-size="11.5" dy="7.3">max</tspan></text>
<text transform="translate(21.9,179.1) rotate(-90) scale(1.1,1)" font-size="18">η</text>
<text transform="translate(21.9,170.4) rotate(-90) skewX(-17)" font-size="16.7">/</text>
<text transform="translate(21.9,163.7) rotate(-90) scale(1.1,1)" font-size="18">η</text>
<text transform="translate(30.8,154.6) rotate(-90)" font-size="13.6" font-style="italic" textLength="10.8" lengthAdjust="spacingAndGlyphs">C</text>
</g>
</svg>
</body></html>
